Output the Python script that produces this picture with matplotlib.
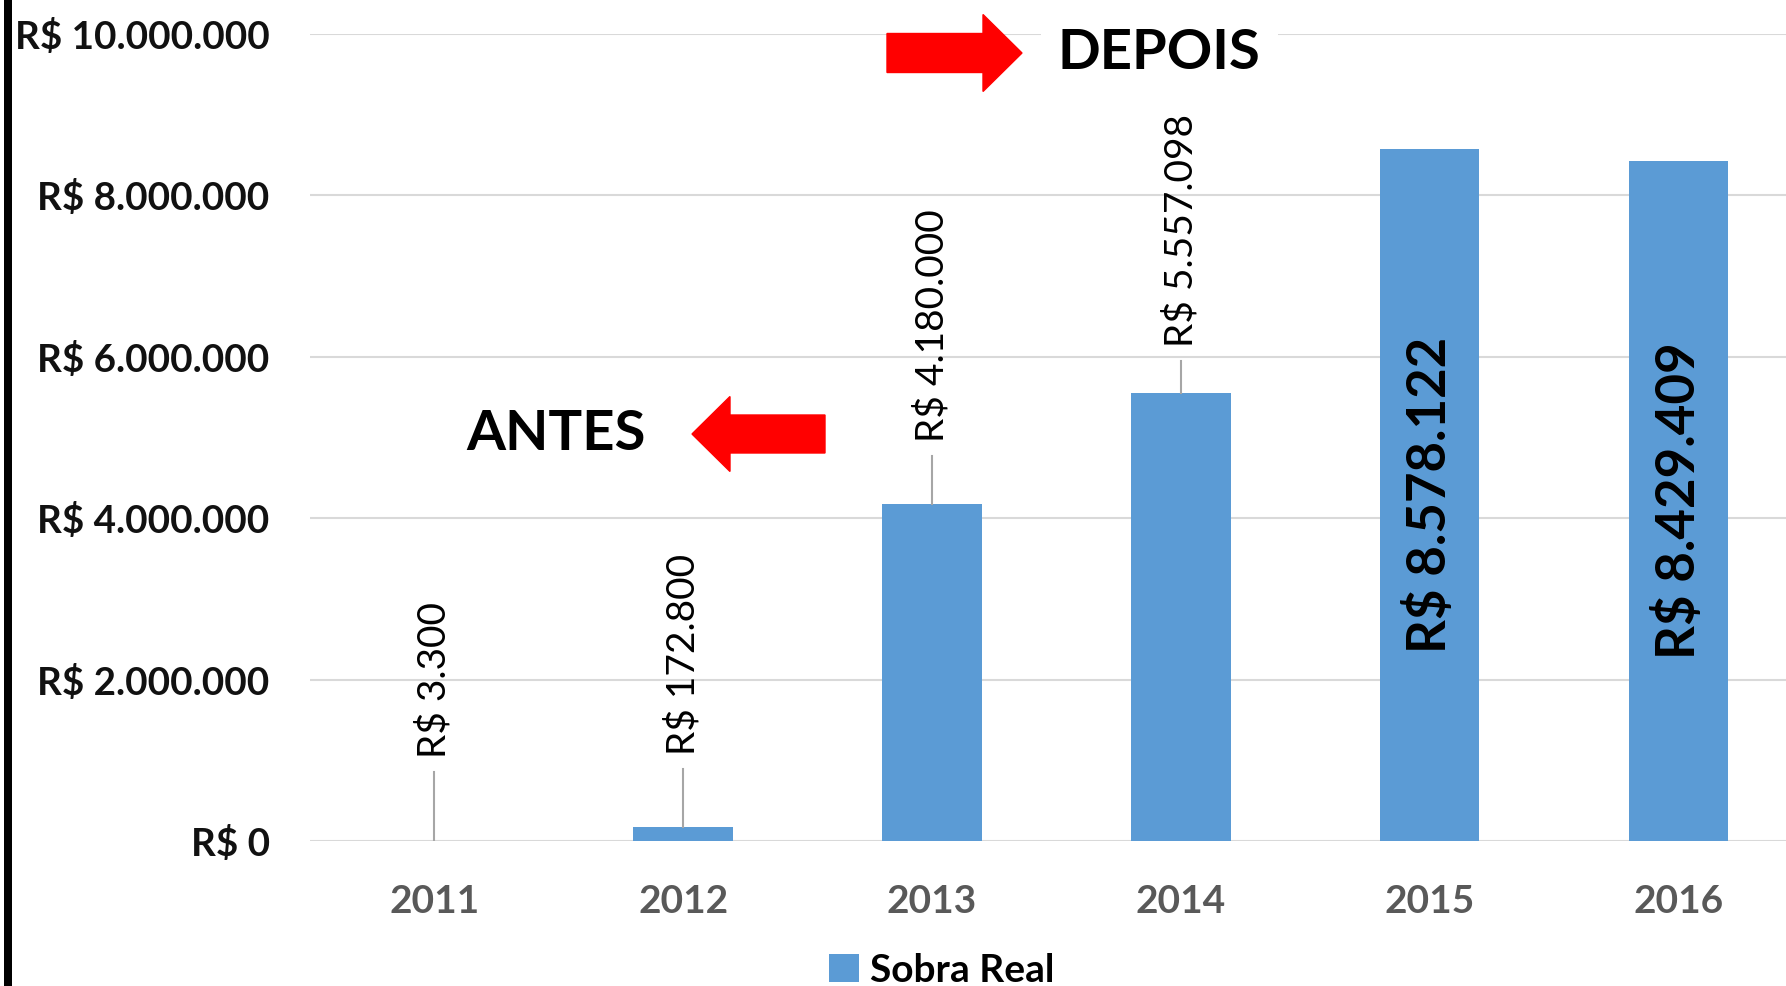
import numpy as np
import matplotlib
matplotlib.use("Agg")
import matplotlib.pyplot as plt
from matplotlib.patches import FancyArrow, Rectangle
from matplotlib.ticker import FuncFormatter

# ── Data ────────────────────────────────────────────────────────────────
anos = ["2011", "2012", "2013", "2014", "2015", "2016"]
sobra_real = [3300, 172800, 4180000, 5557098, 8578122, 8429409]
y_ticks = [0, 2000000, 4000000, 6000000, 8000000, 10000000]

# labels drawn above the bar (with leader line) vs. inside the bar
label_inside = [False, False, False, False, True, True]
leader_len = [0.85e6, 0.72e6, 0.59e6, 0.39e6, 0, 0]

W, H = 1786, 986
BAR = "#5b9bd5"
GRID = "#d9d9d9"
FONT = "Lato"

plt.rcParams["font.family"] = [FONT, "DejaVu Sans"]


def brl(v):
    s = f"{int(round(v)):,}".replace(",", ".")
    return f"R$ {s}"


def px(x, y):
    # pixel (from top-left) -> figure fraction
    return x / W, 1 - y / H


fig = plt.figure(figsize=(W / 100, H / 100), dpi=100)
ax = fig.add_axes([310 / W, 145 / H, (W - 310) / W, 807 / H])

x = np.arange(len(anos))
ax.bar(x, sobra_real, width=0.40, color=BAR, zorder=2, label="Sobra Real")

ax.set_ylim(0, 10000000)
ax.set_xlim(-0.5, -0.5 + (W - 310) / 248.8)
ax.set_yticks(y_ticks)
ax.yaxis.set_major_formatter(FuncFormatter(lambda v, _: brl(v)))
ax.set_xticks(x)
ax.set_xticklabels(anos)
ax.tick_params(axis="y", length=0, pad=29, labelsize=27.8, labelcolor="#111111")
ax.tick_params(axis="x", length=0, pad=31, labelsize=28, labelcolor="#595959")
for lab in ax.get_yticklabels() + ax.get_xticklabels():
    lab.set_fontweight("bold")

ax.grid(axis="y", color=GRID, linewidth=1.5, zorder=0)
ax.set_axisbelow(True)
for s in ax.spines.values():
    s.set_visible(False)

# ── Data labels ─────────────────────────────────────────────────────────
for xi, v, inside, lift in zip(x, sobra_real, label_inside, leader_len):
    if inside:
        ax.text(xi, v / 2, brl(v), rotation=90, ha="center", va="center",
                fontsize=38, fontweight="bold", color="black", zorder=3)
    else:
        ax.plot([xi, xi], [v, v + lift], color="#a6a6a6", linewidth=1.5, zorder=3)
        ax.text(xi, v + lift + 0.17e6, brl(v), rotation=90, ha="center",
                va="bottom", fontsize=28, color="black", zorder=3)

# ── ANTES / DEPOIS annotations ──────────────────────────────────────────
def arrow(x0, x1, yc, body, head_w, head_len):
    fx0, fy = px(x0, yc)
    fx1, _ = px(x1, yc)
    a = FancyArrow(fx0, fy, fx1 - fx0, 0, width=body / H, head_width=head_w / H,
                   head_length=head_len / W, length_includes_head=True,
                   color="#ff0000", transform=fig.transFigure, zorder=5)
    fig.add_artist(a)


arrow(887, 1022, 53, 39, 77, 39)
arrow(825, 692, 434, 38, 75, 38)

tx, ty = px(1058, 53)
fig.text(tx, ty, "DEPOIS", ha="left", va="center", fontsize=40.5, fontweight="bold",
         color="black", zorder=6,
         bbox=dict(facecolor="white", edgecolor="none", pad=12))
tx, ty = px(466, 434)
fig.text(tx, ty, "ANTES", ha="left", va="center", fontsize=40.5, fontweight="bold",
         color="black", zorder=6)

# thick black line on the left edge
fig.add_artist(Rectangle((4 / W, 0), 8 / W, 1, transform=fig.transFigure,
                         facecolor="black", edgecolor="none"))

# ── Legend ──────────────────────────────────────────────────────────────
leg = fig.legend(loc="center", bbox_to_anchor=px(942, 970), frameon=False,
                 fontsize=28, handlelength=0.75, handleheight=0.75, handletextpad=0.3,
                 borderaxespad=0)
for t in leg.get_texts():
    t.set_fontweight("bold")

fig.savefig("out.png", dpi=100)
